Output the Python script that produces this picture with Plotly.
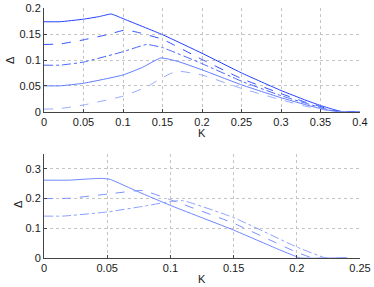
import plotly.graph_objects as go

# ---- top panel data ----
K1 = [0, 0.02, 0.05, 0.07, 0.085, 0.1, 0.15, 0.2, 0.25, 0.3, 0.33, 0.35, 0.365, 0.378, 0.4]
D1 = [0.174, 0.174, 0.179, 0.184, 0.189, 0.180, 0.149, 0.113, 0.075, 0.041, 0.023, 0.012, 0.005, 0, 0]
K2 = [0, 0.02, 0.05, 0.08, 0.103, 0.12, 0.15, 0.2, 0.25, 0.3, 0.33, 0.35, 0.362, 0.375, 0.4]
D2 = [0.130, 0.131, 0.139, 0.149, 0.158, 0.153, 0.140, 0.101, 0.064, 0.035, 0.019, 0.010, 0.004, 0, 0]
K3 = [0, 0.02, 0.05, 0.1, 0.13, 0.15, 0.2, 0.25, 0.3, 0.33, 0.35, 0.362, 0.372, 0.4]
D3 = [0.090, 0.090, 0.096, 0.116, 0.130, 0.124, 0.093, 0.059, 0.031, 0.017, 0.008, 0.003, 0, 0]
K4 = [0, 0.02, 0.05, 0.1, 0.125, 0.148, 0.17, 0.2, 0.25, 0.3, 0.33, 0.35, 0.36, 0.37, 0.4]
D4 = [0.050, 0.050, 0.055, 0.071, 0.086, 0.104, 0.097, 0.081, 0.052, 0.027, 0.014, 0.006, 0.003, 0, 0]
K5 = [0, 0.02, 0.05, 0.1, 0.13, 0.15, 0.168, 0.2, 0.25, 0.3, 0.33, 0.35, 0.367, 0.4]
D5 = [0.005, 0.006, 0.013, 0.030, 0.048, 0.066, 0.0785, 0.071, 0.045, 0.023, 0.011, 0.005, 0, 0]

# ---- bottom panel data ----
KB1 = [0, 0.02, 0.035, 0.045, 0.052, 0.075, 0.1, 0.15, 0.185, 0.2, 0.203, 0.24]
DB1 = [0.262, 0.262, 0.266, 0.268, 0.265, 0.222, 0.177, 0.094, 0.030, 0.004, 0, 0]
KB2 = [0, 0.02, 0.05, 0.078, 0.1, 0.15, 0.2, 0.213, 0.24]
DB2 = [0.200, 0.201, 0.215, 0.227, 0.196, 0.117, 0.019, 0, 0]
KB3 = [0, 0.015, 0.05, 0.08, 0.1, 0.11, 0.15, 0.2, 0.223, 0.24]
DB3 = [0.141, 0.141, 0.155, 0.175, 0.190, 0.193, 0.136, 0.037, 0, 0]

top_xticks = [0, 0.05, 0.1, 0.15, 0.2, 0.25, 0.3, 0.35, 0.4]
top_xlabels = ["0", "0.05", "0.1", "0.15", "0.2", "0.25", "0.3", "0.35", "0.4"]
top_yticks = [0, 0.05, 0.1, 0.15, 0.2]
top_ylabels = ["0", "0.05", "0.1", "0.15", "0.2"]
bot_xticks = [0, 0.05, 0.1, 0.15, 0.2, 0.25]
bot_xlabels = ["0", "0.05", "0.1", "0.15", "0.2", "0.25"]
bot_yticks = [0, 0.1, 0.2, 0.3]
bot_ylabels = ["0", "0.1", "0.2", "0.3"]

fig = go.Figure()

top_series = [
    (K1, D1, "solid", "rgb(35,65,255)"),
    (K2, D2, "dash", "rgb(50,80,255)"),
    (K3, D3, "dashdot", "rgb(70,100,255)"),
    (K4, D4, "solid", "rgb(95,125,255)"),
    (K5, D5, "dash", "rgb(150,170,255)"),
]
for k, d, dash, col in top_series:
    fig.add_trace(go.Scatter(x=k, y=d, mode="lines", xaxis="x", yaxis="y",
                             line=dict(color=col, width=1, dash=dash,
                                       shape="spline", smoothing=0.4),
                             showlegend=False, hoverinfo="skip"))

bot_series = [
    (KB1, DB1, "solid", "rgb(110,135,255)"),
    (KB2, DB2, "dash", "rgb(120,145,255)"),
    (KB3, DB3, "dashdot", "rgb(140,160,255)"),
]
for k, d, dash, col in bot_series:
    fig.add_trace(go.Scatter(x=k, y=d, mode="lines", xaxis="x2", yaxis="y2",
                             line=dict(color=col, width=1, dash=dash,
                                       shape="spline", smoothing=0.4),
                             showlegend=False, hoverinfo="skip"))

font = dict(family="Liberation Sans, Arial, sans-serif", size=11, color="#1a1a1a")
common = dict(showgrid=True, gridcolor="#c4c4c4", griddash="dot", gridwidth=1,
              zeroline=False, showline=True, linecolor="#444", linewidth=1,
              ticks="inside", ticklen=3, tickcolor="#444", tickfont=font,
              tickmode="array", automargin=False)

xd = [44 / 374, 360 / 374]
fig.update_layout(
    width=374, height=287,
    margin=dict(l=0, r=0, t=0, b=0, autoexpand=False),
    paper_bgcolor="white", plot_bgcolor="white",
    font=font,
    xaxis=dict(domain=xd, range=[0, 0.4], anchor="y",
               tickvals=top_xticks, ticktext=top_xlabels, **common),
    yaxis=dict(domain=[1 - 111.7 / 287, 1 - 8.3 / 287], range=[0, 0.2], anchor="x",
               tickvals=top_yticks, ticktext=top_ylabels, **common),
    xaxis2=dict(domain=xd, range=[0, 0.25], anchor="y2",
                tickvals=bot_xticks, ticktext=bot_xlabels, **common),
    yaxis2=dict(domain=[1 - 258 / 287, 1 - 154 / 287], range=[0, 0.35], anchor="x2",
                tickvals=bot_yticks, ticktext=bot_ylabels, **common),
    annotations=[
        dict(text="K", x=202 / 374, y=1 - 133 / 287, xref="paper", yref="paper",
             showarrow=False, font=font, xanchor="center", yanchor="middle"),
        dict(text="K", x=202 / 374, y=1 - 279 / 287, xref="paper", yref="paper",
             showarrow=False, font=font, xanchor="center", yanchor="middle"),
        dict(text="Δ", x=10 / 374, y=1 - 60 / 287, xref="paper", yref="paper",
             showarrow=False, font=font, textangle=-90, xanchor="center", yanchor="middle"),
        dict(text="Δ", x=18 / 374, y=1 - 204 / 287, xref="paper", yref="paper",
             showarrow=False, font=font, textangle=-90, xanchor="center", yanchor="middle"),
    ],
)

fig.write_html("out.html", config={"displayModeBar": False},
               post_script="document.body.style.margin='0px';document.body.style.overflow='hidden';")
